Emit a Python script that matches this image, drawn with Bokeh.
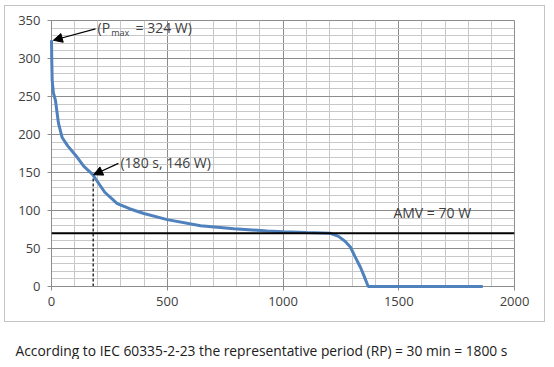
from bokeh.plotting import figure
from bokeh.models import (Label, Arrow, NormalHead, Span, InlineStyleSheet,
                          SingleIntervalTicker, Range1d, Title)
from bokeh.embed import file_html
from bokeh.resources import INLINE

# ---- data ----
time_s = [0, 1, 3, 8, 17, 30, 46, 70, 111, 140, 176, 230, 284, 340, 399, 500,
          644, 788, 932, 1000, 1100, 1205, 1240, 1270, 1291, 1310, 1335, 1350, 1368, 1863]
power_w = [324, 300, 271, 255, 245, 215, 196, 185, 170, 158, 148, 124, 109, 102, 96, 88,
           80, 76, 73, 72, 71, 70, 66, 59, 52, 40, 25, 14, 0, 0]
amv = 70
pmax = 324
point_t, point_p = 180, 146
x_ticks_interval = 500
y_ticks_interval = 50
footer = "According to IEC 60335-2-23 the representative period (RP) = 30 min = 1800 s"

FONT = "Open Sans"
TXT = "#404040"

p = figure(width=546, height=359, output_backend="svg", toolbar_location=None,
           x_range=Range1d(0, 2000), y_range=Range1d(0, 350),
           min_border_left=51, min_border_right=32, min_border_top=20,
           min_border_bottom=73)
p.outline_line_color = "#8c8c8c"
p.background_fill_color = "white"
p.border_fill_color = "white"

# outer chart border (decorative frame around the chart area)
p.stylesheets = [InlineStyleSheet(css=(
    ":host::after{content:'';position:absolute;left:4px;top:5px;"
    "width:541px;height:317px;border:1.5px solid #c4c4c4;"
    "pointer-events:none;box-sizing:border-box;}"))]

xt = SingleIntervalTicker(interval=x_ticks_interval, num_minor_ticks=5)
yt = SingleIntervalTicker(interval=y_ticks_interval, num_minor_ticks=5)
p.xaxis.ticker = xt
p.yaxis.ticker = yt
p.xgrid.ticker = xt
p.ygrid.ticker = yt
for g in (p.xgrid, p.ygrid):
    g.grid_line_color = "#8c8c8c"
    g.grid_line_width = 1
    g.minor_grid_line_color = "#c8c8c8"
    g.minor_grid_line_width = 1
for ax in (p.xaxis, p.yaxis):
    ax.axis_line_color = "#8c8c8c"
    ax.major_tick_line_color = "#8c8c8c"
    ax.major_tick_out = 4
    ax.major_tick_in = 0
    ax.minor_tick_line_color = None
    ax.major_label_text_font = FONT
    ax.major_label_text_font_size = "13px"
    ax.major_label_text_color = TXT
p.xaxis.major_label_standoff = 6
p.yaxis.major_label_standoff = 7

# footer below the chart
p.add_layout(Title(text=footer, align="left", offset=-36, standoff=0,
                   padding=(0, 0, 30, 0),
                   text_font=FONT, text_font_size="13.8px",
                   text_font_style="normal", text_color="#202020"), "below")

# curve (drawn above the axis line)
p.line(time_s, power_w, line_color="#4f81bd", line_width=3, level="overlay")

# AMV line
p.add_layout(Span(location=amv, dimension="width", line_color="black",
                  line_width=2, level="overlay"))

# dashed vertical line at 180 s
p.line([point_t, point_t], [0, point_p], line_color="black", line_width=1.2,
       line_dash="3 2")

# arrows
p.add_layout(Arrow(end=NormalHead(size=9, fill_color="black", line_color="black"),
                   x_start=190, y_start=339, x_end=8, y_end=pmax,
                   line_color="black", line_width=1.2, level="overlay"))
p.add_layout(Arrow(end=NormalHead(size=9, fill_color="black", line_color="black"),
                   x_start=289, y_start=162, x_end=point_t + 2, y_end=point_p + 1,
                   line_color="black", line_width=1.2, level="overlay"))

def lab(x, y, text, size="14px", align="left", **kw):
    p.add_layout(Label(x=x, y=y, text=text, text_font=FONT, text_font_size=size,
                       text_color=TXT, text_align=align, text_baseline="middle", **kw))

lab(199, 341, "(P")
lab(258, 334, "max", size="9px")
lab(363, 341, "= %d W)" % pmax)
lab(298, 163, "(%d s, %d W)" % (point_t, point_p))
lab(1477, 97, "AMV = %d W" % amv)

open("out.html", "w").write(file_html(p, INLINE))
